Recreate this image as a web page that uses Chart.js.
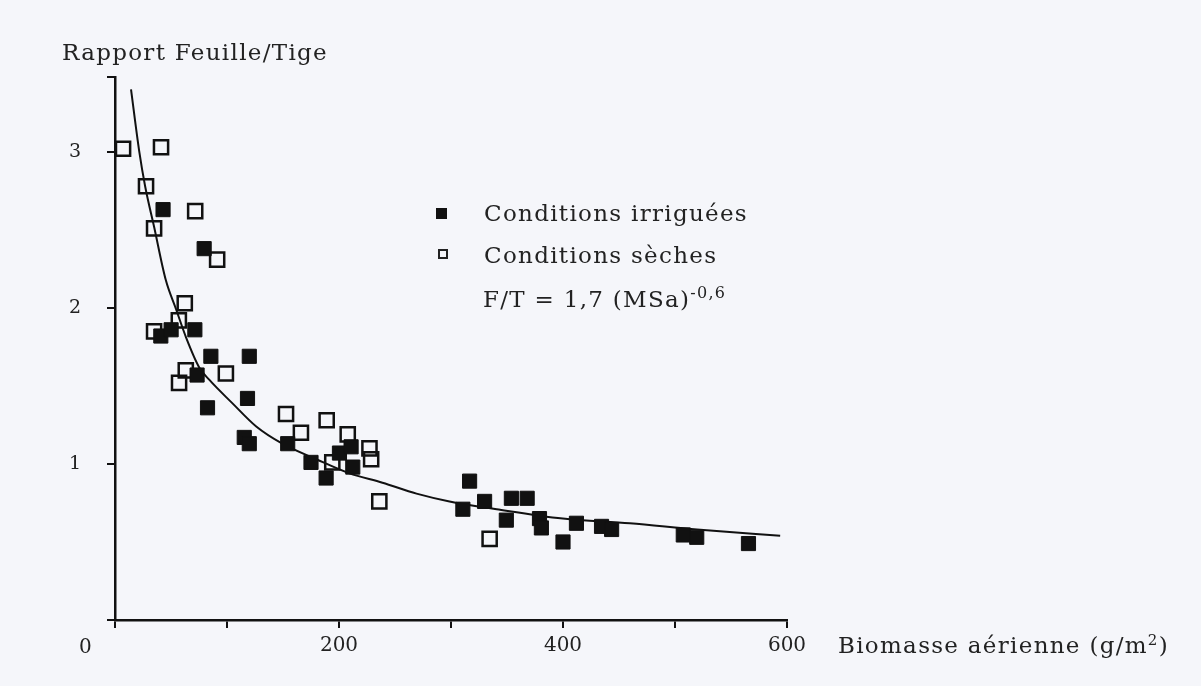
<!DOCTYPE html>
<html>
<head>
<meta charset="utf-8">
<script src="https://cdn.jsdelivr.net/npm/chart.js@4.4.0/dist/chart.umd.min.js"></script>
<style>
  html, body { margin: 0; padding: 0; background: #f5f6fa; }
  #wrap { position: relative; width: 1201px; height: 686px; }
  #myChart { position: absolute; left: 0; top: 0; }
  .lbl { position: absolute; font-family: "DejaVu Serif", serif; color: #222; white-space: nowrap;
         transform: translateY(-50%); line-height: 1; font-size: 23px; letter-spacing: 1.3px; }
  .sq { position: absolute; box-sizing: border-box; }
</style>
</head>
<body>
<div id="wrap">
  <canvas id="myChart" width="1201" height="686"></canvas>
  <div class="lbl" style="left:62px; top:52px;">Rapport Feuille/Tige</div>
  <div class="lbl" style="left:79px; top:646px; font-size:20px;">0</div>
  <div class="lbl" style="left:838px; top:645px;">Biomasse aérienne (g/m<sup style="font-size:15px;">2</sup>)</div>
  <div class="sq" style="left:436px; top:208px; width:11px; height:11px; background:#111;"></div>
  <div class="lbl" style="left:484px; top:213px;">Conditions irriguées</div>
  <div class="sq" style="left:438px; top:249px; width:10px; height:10px; border:2px solid #222;"></div>
  <div class="lbl" style="left:484px; top:255px;">Conditions sèches</div>
  <div class="lbl" style="left:483px; top:298px;">F/T = 1,7 (MSa)<sup style="font-size:16px;">-0,6</sup></div>
</div>
<script>
// Conditions irriguées (filled squares)
var irrigX = [42.9, 79.6, 40.9, 50.1, 71.3, 85.6, 119.9, 73.3, 118.3, 82.6, 115.4, 119.9,
  154.2, 175, 188.5, 200.4, 210.8, 212.3, 316.6, 330, 310.6, 353.9, 368, 349.4, 379, 380.7,
  400, 412, 434.4, 443.4, 507.4, 519.4, 565.6];
var irrigY = [2.63, 2.38, 1.82, 1.86, 1.86, 1.69, 1.69, 1.57, 1.42, 1.36, 1.17, 1.13,
  1.13, 1.01, 0.91, 1.07, 1.11, 0.98, 0.89, 0.76, 0.71, 0.78, 0.78, 0.64, 0.65, 0.59,
  0.50, 0.62, 0.60, 0.58, 0.545, 0.53, 0.49];

// Conditions sèches (open squares)
var secX = [7.2, 41.1, 27.7, 71.6, 34.9, 91.2, 62.3, 57, 34.9, 63.2, 57.2, 99, 152.7,
  189, 166, 207.8, 227.2, 228.7, 194, 236, 334.5];
var secY = [3.02, 3.03, 2.78, 2.62, 2.51, 2.31, 2.03, 1.92, 1.85, 1.60, 1.52, 1.58, 1.32,
  1.28, 1.20, 1.19, 1.10, 1.03, 1.01, 0.76, 0.52];

// fitted curve as drawn in the figure
var curveX = [14.3, 21.5, 26.9, 34.9, 45.3, 54.6, 63.5, 75.1, 84.1, 104.7, 126.1, 149.4,
  179.8, 209.3, 238.8, 269.2, 298.7, 340.8, 399.8, 459.7, 519.7, 593.9];
var curveY = [3.40, 3.01, 2.78, 2.52, 2.18, 1.99, 1.81, 1.62, 1.54, 1.39, 1.24, 1.13,
  1.03, 0.94, 0.88, 0.81, 0.76, 0.71, 0.65, 0.62, 0.58, 0.54];

var xLabels = {200: "200", 400: "400", 600: "600"};
var yLabels = {1: "1", 2: "2", 3: "3"};

function pts(xs, ys) {
  return xs.map(function (x, i) { return {x: x, y: ys[i]}; });
}

new Chart("myChart", {
  type: "scatter",
  data: {
    datasets: [
      {
        label: "courbe",
        type: "line",
        data: pts(curveX, curveY),
        borderColor: "#111",
        borderWidth: 2,
        pointRadius: 0,
        cubicInterpolationMode: "monotone",
        fill: false,
        order: 3
      },
      {
        label: "Conditions sèches",
        data: pts(secX, secY),
        pointStyle: "rect",
        pointRadius: 10,
        backgroundColor: "rgba(245,246,250,0)",
        borderColor: "#111",
        borderWidth: 2.5,
        order: 2
      },
      {
        label: "Conditions irriguées",
        data: pts(irrigX, irrigY),
        pointStyle: "rect",
        pointRadius: 10,
        backgroundColor: "#111",
        borderColor: "#111",
        borderWidth: 1,
        order: 1
      }
    ]
  },
  options: {
    responsive: false,
    animation: false,
    layout: { padding: { left: 0, top: 77, right: 414, bottom: 0 } },
    plugins: { legend: { display: false }, tooltip: { enabled: false } },
    scales: {
      x: {
        type: "linear",
        min: 0,
        max: 600,
        afterFit: function (s) { s.height = 66; },
        border: { display: true, color: "#111", width: 2.5 },
        grid: { drawOnChartArea: false, drawTicks: true, tickLength: 8, color: "#111", lineWidth: 2 },
        ticks: {
          stepSize: 100,
          padding: 6,
          color: "#222",
          font: { family: "DejaVu Serif", size: 20 },
          callback: function (v) { return xLabels[v] || ""; }
        }
      },
      y: {
        type: "linear",
        min: 0,
        max: 3.48,
        afterFit: function (s) { s.width = 115; },
        border: { display: true, color: "#111", width: 2.5 },
        grid: { drawOnChartArea: false, drawTicks: true, tickLength: 8, color: "#111", lineWidth: 2 },
        ticks: {
          stepSize: 1,
          padding: 26,
          color: "#222",
          font: { family: "DejaVu Serif", size: 19 },
          callback: function (v) { return yLabels[v] || ""; }
        }
      }
    }
  }
});
</script>
</body>
</html>
